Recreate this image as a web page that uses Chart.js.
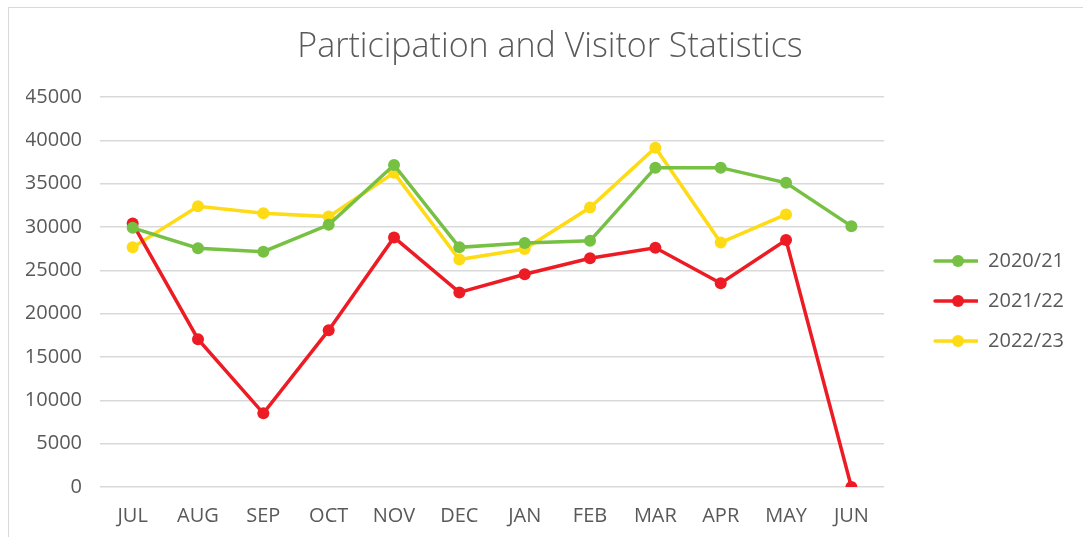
<!DOCTYPE html>
<html lang="en">
    <head>
        <meta charset="UTF-8">
        <title>Participation and Visitor Statistics</title>
        <script src="https://cdn.jsdelivr.net/npm/chart.js"></script>
        <style>
            body { margin: 0; background: #fff; }
            #frame { position: absolute; left: 0; top: 0; width: 1083px; height: 537px; }
            #border { position: absolute; left: 8px; top: 7px; width: 1100px; height: 560px; border: 1px solid #d9d9d9; }
        </style>
    </head>

    <body>
        <div id="border"></div>
        <div id="frame"><canvas id="myChart"></canvas></div>

        <script>
            // dados
            const months = ["JUL", "AUG", "SEP", "OCT", "NOV", "DEC", "JAN", "FEB", "MAR", "APR", "MAY", "JUN"];
            const season2021 = [29900, 27550, 27150, 30250, 37150, 27650, 28150, 28400, 36850, 36850, 35100, 30100];
            const season2122 = [30400, 17050, 8500, 18100, 28800, 22450, 24550, 26400, 27600, 23500, 28500, 0];
            const season2223 = [27650, 32400, 31600, 31200, 36250, 26250, 27450, 32250, 39150, 28200, 31450, null];

            const green = "#76c043";
            const red = "#ed1c24";
            const yellow = "#fedb15";
            const textColour = "#595959";
            const fontName = "'Open Sans', sans-serif";

            // ícone da legenda: linha com um ponto no meio
            function legendIcon(colour) {
                const c = document.createElement("canvas");
                c.width = 74;
                c.height = 14;
                const g = c.getContext("2d");
                g.strokeStyle = colour;
                g.lineWidth = 3.5;
                g.lineCap = "round";
                g.beginPath();
                g.moveTo(31, 7);
                g.lineTo(73, 7);
                g.stroke();
                g.fillStyle = colour;
                g.beginPath();
                g.arc(54, 7, 6, 0, Math.PI * 2);
                g.fill();
                return c;
            }

            function serie(label, data, colour) {
                return {
                    label: label,
                    data: data,
                    borderColor: colour,
                    backgroundColor: colour,
                    borderWidth: 3.5,
                    pointStyle: 'circle',
                    pointRadius: 6,
                    pointHoverRadius: 6,
                    pointBorderWidth: 0,
                    tension: 0
                };
            }

            const ctx = document.getElementById('myChart').getContext('2d');
            const myChart = new Chart(ctx, {
                type: 'line',
                data: {
                    labels: months,
                    datasets: [
                        serie("2020/21", season2021, green),
                        serie("2021/22", season2122, red),
                        serie("2022/23", season2223, yellow)
                    ]
                },
                options: {
                    responsive: true,
                    maintainAspectRatio: false,
                    animation: false,
                    layout: { padding: { top: 17, right: 9, left: 26, bottom: 0 } },
                    plugins: {
                        title: {
                            display: true,
                            text: "Participation and Visitor Statistics",
                            color: textColour,
                            font: { family: fontName, size: 34, weight: 300 },
                            padding: { top: 10, bottom: 29.2 }
                        },
                        legend: {
                            position: 'right',
                            title: { display: true, text: '', font: { size: 10 }, padding: { top: 18, bottom: 18 } },
                            labels: {
                                usePointStyle: true,
                                pointStyleWidth: 74,
                                padding: 20,
                                color: textColour,
                                font: { family: fontName, size: 20 },
                                generateLabels: function(chart) {
                                    return chart.data.datasets.map(function(ds, i) {
                                        return {
                                            text: ds.label,
                                            fontColor: textColour,
                                            pointStyle: legendIcon(ds.borderColor),
                                            fillStyle: ds.borderColor,
                                            strokeStyle: ds.borderColor,
                                            lineWidth: 0,
                                            datasetIndex: i
                                        };
                                    });
                                }
                            }
                        },
                        tooltip: { enabled: false }
                    },
                    scales: {
                        x: {
                            offset: true,
                            grid: { display: false },
                            border: { display: false },
                            ticks: {
                                color: textColour,
                                padding: 9,
                                font: { family: fontName, size: 20 }
                            },
                            afterFit: function(scale) { scale.height = 50; }
                        },
                        y: {
                            min: 0,
                            max: 45000,
                            border: { display: false },
                            grid: { color: "#d9d9d9", lineWidth: 1.5, drawTicks: false },
                            ticks: {
                                stepSize: 5000,
                                color: textColour,
                                padding: 18,
                                font: { family: fontName, size: 20 },
                                callback: function(v) { return String(v); }
                            },
                            afterFit: function(scale) { scale.width = 74; }
                        }
                    }
                }
            });
        </script>
    </body>
</html>
